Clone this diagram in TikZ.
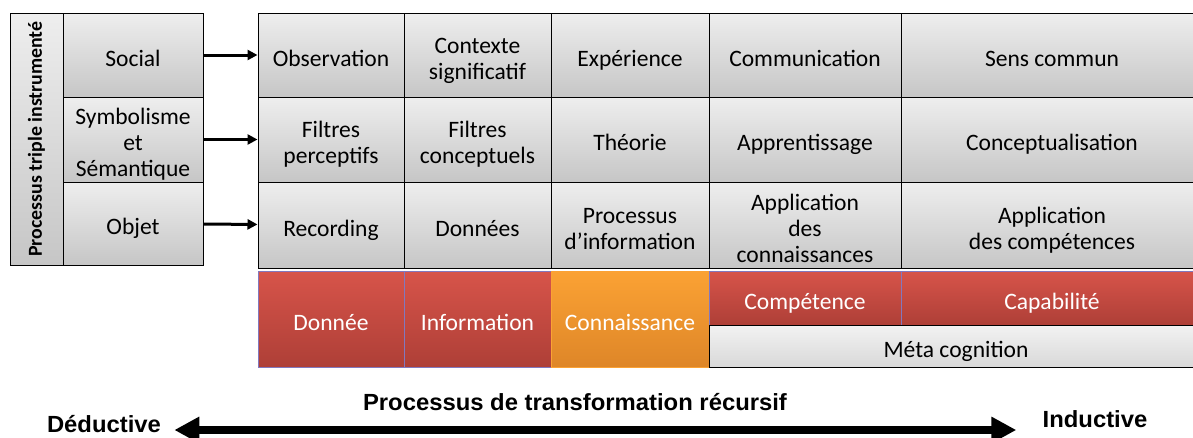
\documentclass[tikz,border=0pt]{standalone}
\usepackage{fontspec}
\setmainfont{Carlito}
\newfontfamily\titrefont[FakeStretch=1.02]{Liberation Sans}
\usetikzlibrary{arrows.meta}

\definecolor{grisclair}{RGB}{238,238,238}
\definecolor{grisfonce}{RGB}{198,198,198}
\definecolor{rougeclair}{RGB}{215,84,74}
\definecolor{rougefonce}{RGB}{174,63,55}
\definecolor{orangeclair}{RGB}{251,162,52}
\definecolor{orangefonce}{RGB}{222,134,40}
\definecolor{bordviolet}{RGB}{130,120,190}

\begin{document}
\begin{tikzpicture}[yscale = -1, line width = 0.2mm,
	texte/.style = {inner xsep = 0, inner ysep = -2mm, align = flush center, font = \fontsize{13.4}{14.8}\selectfont,
		execute at begin node = {\rule[-0.3em]{0pt}{1.55em}}, execute at end node = {\rule[-0.3em]{0pt}{0pt}}},
	largeur/.style = {minimum width = #1, text width = #1},
	cellule/.style = {texte, draw, top color = grisclair, bottom color = grisfonce},
	rouge/.style = {texte, draw = bordviolet, top color = rougeclair, bottom color = rougefonce, text = white},
	fleche/.style = {line width = 0.6mm, -{Triangle[length = 2mm, width = 2mm]}},
	titre/.style = {font = \titrefont\bfseries\fontsize{13.3}{15}\selectfont}]
	\fill[white] (0, 0) rectangle (238.6mm, 87.4mm);
	\useasboundingbox (0, 0) rectangle (238.6mm, 87.4mm);
	\clip (0, 0) rectangle (238.6mm, 87.4mm);

	% Processus triple instrumenté
	\node[cellule, largeur = 10.6mm, minimum height = 50.4mm] (triple) at (7.3mm, 27.8mm) {};
	\node[rotate = 90, font = \bfseries\fontsize{11.3}{13}\selectfont] (tripletexte) at (triple.center) {Processus triple instrumenté};
	\begin{scope}[largeur = 28mm]
		\node[cellule, minimum height = 16.8mm] (social) at (26.6mm, 11mm) {Social};
		\node[cellule, minimum height = 17mm] (symbole) at (26.6mm, 27.9mm) {Symbolisme\\et\\Sémantique};
		\node[cellule, minimum height = 16.6mm] (objet) at (26.6mm, 44.7mm) {Objet};
	\end{scope}

	% Ligne 1
	\begin{scope}[minimum height = 16.8mm]
		\node[cellule, largeur = 29.2mm] (observation) at (66.2mm, 11mm) {Observation};
		\node[cellule, largeur = 29.4mm] (contexte) at (95.5mm, 11mm) {Contexte\\significatif};
		\node[cellule, largeur = 31.6mm] (experience) at (126mm, 11mm) {Expérience};
		\node[cellule, largeur = 38.4mm] (communication) at (161mm, 11mm) {Communication};
		\node[cellule, largeur = 60.4mm] (sens) at (210.4mm, 11mm) {Sens commun};
	\end{scope}

	% Ligne 2
	\begin{scope}[minimum height = 17mm]
		\node[cellule, largeur = 29.2mm] (perceptifs) at (66.2mm, 27.9mm) {Filtres\\perceptifs};
		\node[cellule, largeur = 29.4mm] (conceptuels) at (95.5mm, 27.9mm) {Filtres\\conceptuels};
		\node[cellule, largeur = 31.6mm] (theorie) at (126mm, 27.9mm) {Théorie};
		\node[cellule, largeur = 38.4mm] (apprentissage) at (161mm, 27.9mm) {Apprentissage};
		\node[cellule, largeur = 60.4mm] (conceptualisation) at (210.4mm, 27.9mm) {Conceptualisation};
	\end{scope}

	% Ligne 3
	\begin{scope}[minimum height = 17.2mm]
		\node[cellule, largeur = 29.2mm] (recording) at (66.2mm, 45mm) {Recording};
		\node[cellule, largeur = 29.4mm] (donnees) at (95.5mm, 45mm) {Données};
		\node[cellule, largeur = 31.6mm] (processus) at (126mm, 45mm) {Processus\\d’information};
		\node[cellule, largeur = 38.4mm] (appconn) at (161mm, 45mm) {Application\\des\\connaissances};
		\node[cellule, largeur = 60.4mm] (appcomp) at (210.4mm, 45mm) {Application\\des compétences};
	\end{scope}

	% Fleches
	\draw[fleche] (social) -- (observation);
	\draw[fleche] (symbole) -- (perceptifs);
	\draw[fleche] (objet) -- (recording);

	% Niveaux
	\node[rouge, largeur = 29.2mm, minimum height = 19.2mm] (donnee) at (66.2mm, 63.8mm) {Donnée};
	\node[rouge, largeur = 29.4mm, minimum height = 19.2mm] (information) at (95.5mm, 63.8mm) {Information};
	\node[rouge, draw = orangeclair, top color = orangeclair, bottom color = orangefonce, largeur = 31.6mm, minimum height = 19.2mm] (connaissance) at (126mm, 63.8mm) {Connaissance};
	\node[rouge, largeur = 38.4mm, minimum height = 10.8mm] (competence) at (161mm, 59.6mm) {Compétence};
	\node[rouge, largeur = 60.4mm, minimum height = 10.8mm] (capabilite) at (210.4mm, 59.6mm) {Capabilité};
	\node[cellule, top color = white!95!black, bottom color = white!85!black, largeur = 98.8mm, minimum height = 8.4mm] (meta) at (191.2mm, 69.2mm) {Méta cognition};

	% Processus de transformation
	\node[titre] (transformation) at (115mm, 80.4mm) {Processus de transformation récursif};
	\node[titre] (deductive) at (20.8mm, 84.8mm) {Déductive};
	\node[titre] (inductive) at (219mm, 83.8mm) {Inductive};
	\draw[line width = 1.6mm, {Triangle[length = 5mm, width = 5mm]}-{Triangle[length = 5mm, width = 5mm]}, shorten < = 1.4mm, shorten > = 4mm]
		(deductive.east |- 0, 86mm) -- (inductive.west |- 0, 86mm);
\end{tikzpicture}
\end{document}
